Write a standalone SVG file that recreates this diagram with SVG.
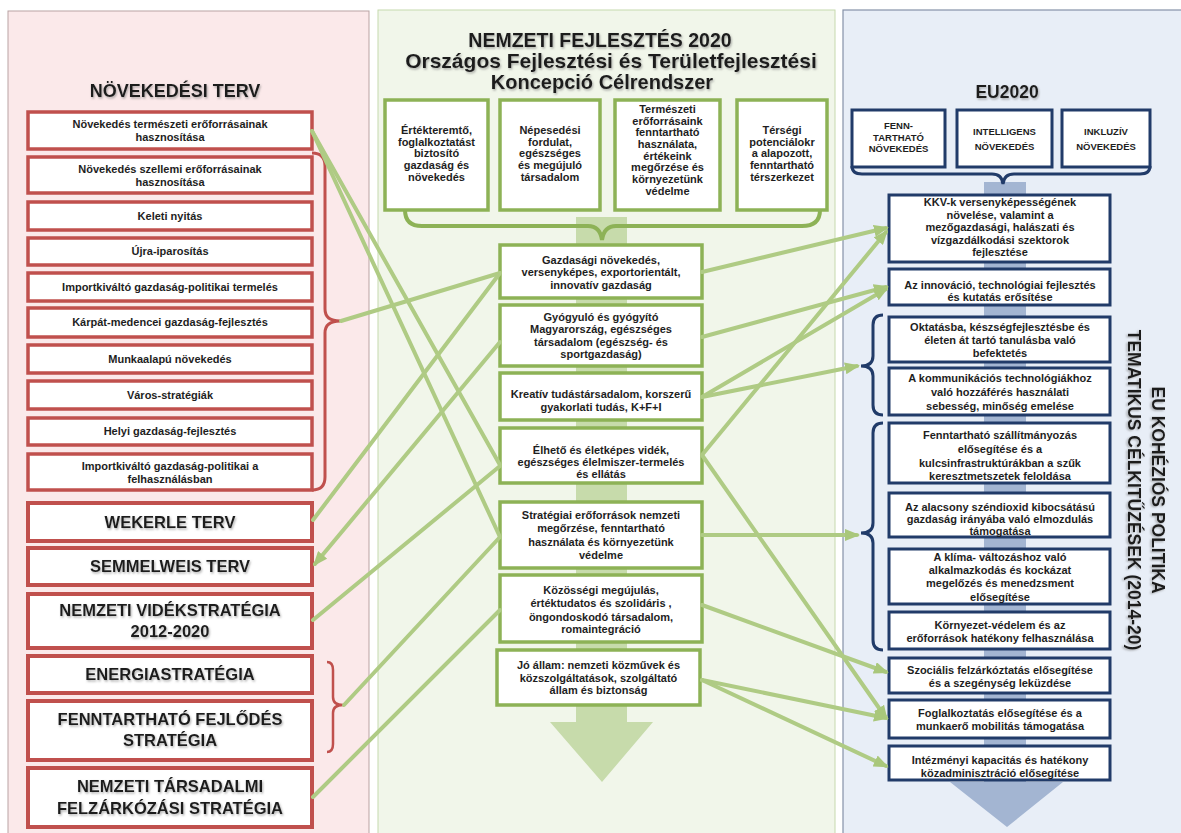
<svg xmlns="http://www.w3.org/2000/svg" width="1181" height="833" viewBox="0 0 1181 833">
<defs>
<style>
text{font-family:"Liberation Sans",Arial,sans-serif;fill:#1e1e1e;text-anchor:middle}
.s{font-size:11px;font-weight:bold}
.f{font-size:9.5px;font-weight:bold}
.b{font-size:16.5px;font-weight:bold;filter:url(#sh)}
.ttl{font-size:18px;font-weight:bold;filter:url(#sh)}
.lb{fill:#fff;stroke:#c0504d;stroke-width:3.5}
.lbb{fill:#fff;stroke:#c0504d;stroke-width:4}
.cb{fill:#fff;stroke:#8db256;stroke-width:3.5}
.rb{fill:#fff;stroke:#213b69;stroke-width:3}
.conn{fill:none;stroke:#afcb84;stroke-width:4;stroke-linecap:round}
.arr{marker-end:url(#ah)}
</style>
<filter id="sh" x="-10%" y="-30%" width="120%" height="160%"><feDropShadow dx="1" dy="1.5" stdDeviation="0.8" flood-color="#777" flood-opacity="0.6"/></filter>
<marker id="ah" markerUnits="userSpaceOnUse" markerWidth="15" markerHeight="12" refX="12" refY="6" orient="auto"><path d="M0,0 L15,6 L0,12 z" fill="#a9c77b"/></marker>
</defs>

<!-- panels -->
<g id="panels">
<rect x="8" y="11" width="361" height="835" fill="#fbe9ea" stroke="#b9a3a3" stroke-width="1"/>
<rect x="378" y="10" width="457" height="836" fill="#f1f6ea" stroke="#c6d9ae" stroke-width="1"/>
<rect x="843" y="10" width="345" height="836" fill="#e8eef7" stroke="#8592a8" stroke-width="1.2"/>
<path d="M576,217 H627 V722 H653 L602,782 L550,722 H576 Z" fill="#c7dbab"/>
<path d="M984,182 H1026 V782 H1063 L1007,827 L950,782 H984 Z" fill="#a3b5d2"/>
</g>

<!-- titles -->
<g id="titles">
<text class="ttl" x="175" y="97">NÖVEKEDÉSI TERV</text>
<text class="ttl" x="600" y="47" style="font-size:19.5px">NEMZETI FEJLESZTÉS 2020</text>
<text class="ttl" x="611" y="68" style="font-size:21px">Országos Fejlesztési és Területfejlesztési</text>
<text class="ttl" x="602" y="89" style="font-size:20px">Koncepció Célrendszer</text>
<text class="ttl" x="1007" y="98" style="font-size:17.5px">EU2020</text>
<text class="ttl" transform="translate(1152,490) rotate(90)" style="font-size:17.5px">EU KOHÉZIÓS POLITIKA</text>
<text class="ttl" transform="translate(1128,490) rotate(90)" style="font-size:17.5px">TEMATIKUS CÉLKITŰZÉSEK (2014-20)</text>
</g>

<!-- left column -->
<g id="l1"><rect class="lb" x="28" y="112" width="284" height="37"/><text class="s" x="170" y="128">Növekedés természeti erőforrásainak</text><text class="s" x="170" y="141">hasznosítása</text></g>
<g id="l2"><rect class="lb" x="28" y="157" width="284" height="36"/><text class="s" x="170" y="173">Növekedés szellemi erőforrásainak</text><text class="s" x="170" y="186">hasznosítása</text></g>
<g id="l3"><rect class="lb" x="28" y="202" width="284" height="28"/><text class="s" x="170" y="220">Keleti nyitás</text></g>
<g id="l4"><rect class="lb" x="28" y="238" width="284" height="27"/><text class="s" x="170" y="255">Újra-iparosítás</text></g>
<g id="l5"><rect class="lb" x="28" y="273" width="284" height="28"/><text class="s" x="170" y="291">Importkiváltó gazdaság-politikai termelés</text></g>
<g id="l6"><rect class="lb" x="28" y="308" width="284" height="29"/><text class="s" x="170" y="326">Kárpát-medencei gazdaság-fejlesztés</text></g>
<g id="l7"><rect class="lb" x="28" y="345" width="284" height="28"/><text class="s" x="170" y="363">Munkaalapú növekedés</text></g>
<g id="l8"><rect class="lb" x="28" y="381" width="284" height="28"/><text class="s" x="170" y="399">Város-stratégiák</text></g>
<g id="l9"><rect class="lb" x="28" y="418" width="284" height="27"/><text class="s" x="170" y="435">Helyi gazdaság-fejlesztés</text></g>
<g id="l10"><rect class="lb" x="28" y="454" width="284" height="36"/><text class="s" x="170" y="470">Importkiváltó gazdaság-politikai a</text><text class="s" x="170" y="483">felhasználásban</text></g>
<g id="bracket-left-1"><path d="M312,153 Q325,153 325,166 L325,309 Q325,321 340,321 Q325,321 325,333 L325,477 Q325,490 312,490" fill="none" stroke="#c0504d" stroke-width="3"/></g>

<g id="wekerle"><rect class="lbb" x="28" y="503" width="284" height="38"/><text class="b" x="170" y="528">WEKERLE TERV</text></g>
<g id="semmelweis"><rect class="lbb" x="28" y="548" width="284" height="37"/><text class="b" x="170" y="572">SEMMELWEIS TERV</text></g>
<g id="videk"><rect class="lbb" x="28" y="594" width="284" height="54"/><text class="b" x="170" y="616">NEMZETI VIDÉKSTRATÉGIA</text><text class="b" x="170" y="637">2012-2020</text></g>
<g id="energia"><rect class="lbb" x="28" y="656" width="284" height="37"/><text class="b" x="170" y="680">ENERGIASTRATÉGIA</text></g>
<g id="fenntarthato"><rect class="lbb" x="28" y="701" width="284" height="59"/><text class="b" x="170" y="725">FENNTARTHATÓ FEJLŐDÉS</text><text class="b" x="170" y="746">STRATÉGIA</text></g>
<g id="tarsadalmi"><rect class="lbb" x="28" y="768" width="284" height="59"/><text class="b" x="170" y="792">NEMZETI TÁRSADALMI</text><text class="b" x="170" y="814">FELZÁRKÓZÁSI STRATÉGIA</text></g>
<g id="bracket-left-2"><path d="M327,662 Q333,662 333,670 L333,697 Q333,705 343,705 Q333,705 333,713 L333,744 Q333,752 327,752" fill="none" stroke="#c0504d" stroke-width="2.5"/></g>

<!-- center top boxes -->
<g id="ca"><rect class="cb" x="385" y="100" width="103" height="110"/>
<text class="s" x="436.5" y="134">Értékteremtő,</text><text class="s" x="436.5" y="146">foglalkoztatást</text><text class="s" x="436.5" y="157">biztosító</text><text class="s" x="436.5" y="169">gazdaság és</text><text class="s" x="436.5" y="181">növekedés</text></g>
<g id="cbx"><rect class="cb" x="500" y="100" width="100" height="110"/>
<text class="s" x="550" y="134">Népesedési</text><text class="s" x="550" y="146">fordulat,</text><text class="s" x="550" y="157">egészséges</text><text class="s" x="550" y="169">és megújuló</text><text class="s" x="550" y="181">társadalom</text></g>
<g id="cc"><rect class="cb" x="615" y="100" width="105" height="110"/>
<text class="s" x="667.5" y="113">Természeti</text><text class="s" x="667.5" y="125">erőforrásaink</text><text class="s" x="667.5" y="136">fenntartható</text><text class="s" x="667.5" y="148">használata,</text><text class="s" x="667.5" y="160">értékeink</text><text class="s" x="667.5" y="171">megőrzése és</text><text class="s" x="667.5" y="183">környezetünk</text><text class="s" x="667.5" y="195">védelme</text></g>
<g id="cd"><rect class="cb" x="737" y="100" width="90" height="110"/>
<text class="s" x="782" y="134">Térségi</text><text class="s" x="782" y="146">potenciálokr</text><text class="s" x="782" y="157">a alapozott,</text><text class="s" x="782" y="169">fenntartható</text><text class="s" x="782" y="181">térszerkezet</text></g>
<g id="brace-center"><path d="M405,210 Q405,226 422,226 L588,226 Q600,226 602,240 Q604,226 616,226 L802,226 Q820,226 820,210" fill="none" stroke="#8db256" stroke-width="4"/></g>

<!-- center column -->
<g id="g1"><rect class="cb" x="500" y="245" width="202" height="53"/><text class="s" x="601" y="264">Gazdasági növekedés,</text><text class="s" x="601" y="276">versenyképes, exportorientált,</text><text class="s" x="601" y="289">innovatív gazdaság</text></g>
<g id="g2"><rect class="cb" x="500" y="305" width="202" height="61"/><text class="s" x="601" y="321">Gyógyuló és gyógyító</text><text class="s" x="601" y="333">Magyarország, egészséges</text><text class="s" x="601" y="346">társadalom (egészség- és</text><text class="s" x="601" y="358">sportgazdaság)</text></g>
<g id="g3"><rect class="cb" x="500" y="373" width="202" height="47"/><text class="s" x="601" y="398">Kreatív tudástársadalom, korszerű</text><text class="s" x="601" y="411">gyakorlati tudás, K+F+I</text></g>
<g id="g4"><rect class="cb" x="500" y="428" width="202" height="55"/><text class="s" x="601" y="454">Élhető és életképes vidék,</text><text class="s" x="601" y="466">egészséges élelmiszer-termelés</text><text class="s" x="601" y="478">és ellátás</text></g>
<g id="g5"><rect class="cb" x="500" y="502" width="202" height="66"/><text class="s" x="601" y="519">Stratégiai erőforrások nemzeti</text><text class="s" x="601" y="532">megőrzése, fenntartható</text><text class="s" x="601" y="546">használata és környezetünk</text><text class="s" x="601" y="559">védelme</text></g>
<g id="g6"><rect class="cb" x="500" y="575" width="202" height="67"/><text class="s" x="601" y="594">Közösségi megújulás,</text><text class="s" x="601" y="607">értéktudatos és szolidáris ,</text><text class="s" x="601" y="621">öngondoskodó társadalom,</text><text class="s" x="601" y="633">romaintegráció</text></g>
<g id="g7"><rect class="cb" x="497" y="650" width="203" height="55"/><text class="s" x="598.5" y="669">Jó állam: nemzeti közművek és</text><text class="s" x="598.5" y="682">közszolgáltatások, szolgáltató</text><text class="s" x="598.5" y="694">állam és biztonság</text></g>

<!-- right top boxes -->
<g id="f1"><rect class="rb" x="852" y="110" width="93" height="57"/><text class="f" x="898.5" y="129">FENN-</text><text class="f" x="898.5" y="140.5">TARTHATÓ</text><text class="f" x="898.5" y="152">NÖVEKEDÉS</text></g>
<g id="f2"><rect class="rb" x="957" y="110" width="95" height="57"/><text class="f" x="1004.5" y="135">INTELLIGENS</text><text class="f" x="1004.5" y="150">NÖVEKEDÉS</text></g>
<g id="f3"><rect class="rb" x="1062" y="110" width="88" height="57"/><text class="f" x="1106" y="135">INKLUZÍV</text><text class="f" x="1106" y="150">NÖVEKEDÉS</text></g>
<g id="brace-right-top"><path d="M852,166 Q852,174 862,174 L992,174 Q1002,174 1003,184 Q1004,174 1014,174 L1140,174 Q1150,174 1150,166" fill="none" stroke="#213b69" stroke-width="3"/></g>

<!-- right column -->
<g id="r1"><rect class="rb" x="889" y="195" width="221" height="67"/><text class="s" x="1000" y="206">KKV-k versenyképességének</text><text class="s" x="1000" y="218.5">növelése, valamint a</text><text class="s" x="1000" y="231">mezőgazdasági, halászati és</text><text class="s" x="1000" y="243.5">vízgazdálkodási szektorok</text><text class="s" x="1000" y="256">fejlesztése</text></g>
<g id="r2"><rect class="rb" x="889" y="269" width="221" height="36"/><text class="s" x="1000" y="289">Az innováció, technológiai fejlesztés</text><text class="s" x="1000" y="301">és kutatás erősítése</text></g>
<g id="r3"><rect class="rb" x="889" y="317" width="221" height="45"/><text class="s" x="1000" y="331">Oktatásba, készségfejlesztésbe és</text><text class="s" x="1000" y="344">életen át tartó tanulásba való</text><text class="s" x="1000" y="357">befektetés</text></g>
<g id="r4"><rect class="rb" x="889" y="368" width="221" height="47"/><text class="s" x="1000" y="382">A kommunikációs technológiákhoz</text><text class="s" x="1000" y="396">való hozzáférés használati</text><text class="s" x="1000" y="410">sebesség, minőség emelése</text></g>
<g id="r5"><rect class="rb" x="889" y="423" width="221" height="60"/><text class="s" x="1000" y="439">Fenntartható szállítmányozás</text><text class="s" x="1000" y="453">elősegítése és a</text><text class="s" x="1000" y="467">kulcsinfrastruktúrákban a szűk</text><text class="s" x="1000" y="480">keresztmetszetek feloldása</text></g>
<g id="r6"><rect class="rb" x="889" y="493" width="221" height="44"/><text class="s" x="1000" y="511">Az alacsony széndioxid kibocsátású</text><text class="s" x="1000" y="523">gazdaság irányába való elmozdulás</text><text class="s" x="1000" y="535">támogatása</text></g>
<g id="r7"><rect class="rb" x="889" y="549" width="221" height="55"/><text class="s" x="1000" y="561">A klíma- változáshoz való</text><text class="s" x="1000" y="574">alkalmazkodás és kockázat</text><text class="s" x="1000" y="587">megelőzés és menedzsment</text><text class="s" x="1000" y="601">elősegítése</text></g>
<g id="r8"><rect class="rb" x="889" y="612" width="221" height="37"/><text class="s" x="1000" y="629">Környezet-védelem és az</text><text class="s" x="1000" y="642">erőforrások hatékony felhasználása</text></g>
<g id="r9"><rect class="rb" x="889" y="658" width="221" height="35"/><text class="s" x="1000" y="674">Szociális felzárkóztatás elősegítése</text><text class="s" x="1000" y="687">és a szegénység leküzdése</text></g>
<g id="r10"><rect class="rb" x="889" y="700" width="221" height="38"/><text class="s" x="1000" y="717">Foglalkoztatás elősegítése és a</text><text class="s" x="1000" y="730">munkaerő mobilitás támogatása</text></g>
<g id="r11"><rect class="rb" x="889" y="746" width="221" height="34"/><text class="s" x="1000" y="764">Intézményi kapacitás és hatékony</text><text class="s" x="1000" y="777">közadminisztráció elősegítése</text></g>
<g id="brace-right-1"><path d="M883,315 Q873,315 873,325 L873,356 Q873,366 861,366 Q873,366 873,376 L873,405 Q873,415 883,415" fill="none" stroke="#213b69" stroke-width="3"/></g>
<g id="brace-right-2"><path d="M883,423 Q873,423 873,433 L873,523 Q873,533 861,533 Q873,533 873,543 L873,640 Q873,650 883,650" fill="none" stroke="#213b69" stroke-width="3"/></g>

<!-- connectors -->
<g id="connectors">
<path class="conn" d="M312,131 L500,465"/>
<path class="conn" d="M312,131 L500,537"/>
<path class="conn" d="M341,321 L500,273"/>
<path class="conn" d="M500,273 L313,520"/>
<path class="conn arr" d="M500,342 L315,564"/>
<path class="conn" d="M500,466 L313,620"/>
<path class="conn" d="M500,537 L344,705"/>
<path class="conn" d="M500,610 L313,797"/>
<path class="conn arr" d="M702,272 L886,228"/>
<path class="conn arr" d="M702,337 L886,287"/>
<path class="conn arr" d="M702,397 L886,289"/>
<path class="conn arr" d="M702,397 L857,366"/>
<path class="conn arr" d="M702,455 L886,232"/>
<path class="conn arr" d="M702,455 L886,718"/>
<path class="conn arr" d="M702,535 L857,535"/>
<path class="conn arr" d="M702,605 L886,672"/>
<path class="conn arr" d="M702,680 L886,718"/>
<path class="conn arr" d="M702,680 L886,766"/>
</g>
</svg>
